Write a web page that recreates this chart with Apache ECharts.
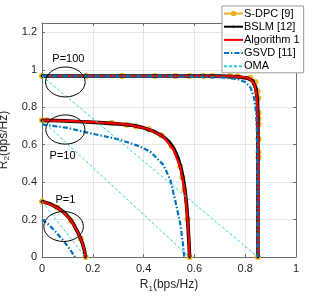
<!DOCTYPE html>
<html>
<head>
<meta charset="utf-8">
<script src="https://cdn.jsdelivr.net/npm/echarts@6/dist/echarts.min.js"></script>
<style>html,body{margin:0;padding:0;background:#fff}#c{width:327px;height:296px}</style>
</head>
<body>
<div id="c"></div>
<script>
// ---------- data (R1, R2) in bps/Hz ----------
const methodNames = ['S-DPC [9]', 'BSLM [12]', 'Algorithm 1', 'GSVD [11]', 'OMA'];
const powerLabels = ['P=100', 'P=10', 'P=1'];

const sdpc_P100 = [[0,0.967],[0.173,0.967],[0.314,0.967],[0.445,0.967],[0.525,0.967],[0.58,0.967],[0.635,0.967],[0.67,0.967],[0.74,0.967],[0.77,0.966],[0.82,0.958],[0.84,0.935],[0.849,0.885],[0.852,0.85],[0.852,0.77],[0.852,0.74],[0.852,0.71],[0.852,0.63],[0.852,0.56],[0.852,0.53],[0.85,0]];
const sdpc_P10 = [[0,0.73],[0.02,0.731],[0.274,0.716],[0.334,0.707],[0.37,0.699],[0.42,0.683],[0.47,0.651],[0.51,0.592],[0.544,0.485],[0.553,0.425],[0.56,0.36],[0.573,0.2],[0.581,0]];
const sdpc_P1 = [[0,0.297],[0.06,0.265],[0.115,0.194],[0.153,0.097],[0.172,0]];

const bslm_P100 = [[0,0.967],[0.1,0.967],[0.2,0.967],[0.3,0.967],[0.4,0.967],[0.5,0.967],[0.6,0.967],[0.7,0.966],[0.77,0.963],[0.81,0.955],[0.83,0.94],[0.842,0.9],[0.848,0.84],[0.85,0.75],[0.85,0.6],[0.85,0.45],[0.85,0.3],[0.85,0.15],[0.85,0]];
const bslm_P10 = [[0,0.73],[0.045,0.729],[0.09,0.727],[0.135,0.724],[0.18,0.721],[0.225,0.718],[0.27,0.714],[0.315,0.709],[0.36,0.702],[0.4,0.69],[0.44,0.671],[0.475,0.645],[0.5,0.615],[0.52,0.575],[0.535,0.53],[0.548,0.47],[0.557,0.41],[0.564,0.345],[0.569,0.28],[0.573,0.21],[0.576,0.14],[0.579,0.07],[0.581,0]];
const bslm_P1 = [[0,0.296],[0.03,0.285],[0.06,0.264],[0.085,0.24],[0.105,0.212],[0.123,0.178],[0.138,0.14],[0.15,0.105],[0.16,0.07],[0.167,0.035],[0.171,0]];

const alg_P100 = [[0,0.967],[0.4,0.967],[0.75,0.965],[0.8,0.96],[0.82,0.95],[0.835,0.925],[0.843,0.88],[0.848,0.8],[0.85,0.6],[0.85,0]];
const alg_P10 = [[0,0.73],[0.1,0.727],[0.2,0.72],[0.3,0.712],[0.347,0.705],[0.4,0.69],[0.426,0.678],[0.478,0.642],[0.518,0.573],[0.544,0.483],[0.564,0.34],[0.573,0.198],[0.578,0.1],[0.581,0]];
const alg_P1 = [[0,0.296],[0.02,0.288],[0.04,0.277],[0.06,0.263],[0.083,0.242],[0.1,0.218],[0.115,0.192],[0.13,0.16],[0.143,0.127],[0.153,0.095],[0.161,0.065],[0.167,0.035],[0.171,0]];

const gsvd_P100 = [[0,0.966],[0.6,0.964],[0.72,0.958],[0.77,0.95],[0.8,0.935],[0.821,0.905],[0.835,0.85],[0.843,0.77],[0.847,0.65],[0.848,0]];
const gsvd_P10 = [[0,0.708],[0.1,0.69],[0.189,0.661],[0.294,0.631],[0.347,0.608],[0.386,0.59],[0.426,0.563],[0.478,0.492],[0.505,0.412],[0.524,0.305],[0.544,0.18],[0.554,0.08],[0.56,0]];
const gsvd_P1 = [[0,0.2],[0.025,0.175],[0.05,0.14],[0.083,0.09],[0.105,0.05],[0.13,0]];

const oma_P100 = [[0,0.967],[0.85,0]];
const oma_P10 = [[0,0.73],[0.58,0]];
const oma_P1 = [[0,0.296],[0.171,0]];

const xTicks = [0, 0.2, 0.4, 0.6, 0.8, 1];
const yTicks = [0, 0.2, 0.4, 0.6, 0.8, 1, 1.2];

// annotation ellipses (data coords) and labels
const ellipseCenters = [[0.092, 0.935], [0.092, 0.681], [0.085, 0.163]];
const ellipseRadii = [[0.078, 0.08], [0.077, 0.078], [0.078, 0.08]];
const labelPos = [[0.104, 1.06], [0.081, 0.539], [0.092, 0.305]];

// ---------- chart ----------
const FONT = 'Liberation Sans, Arial, sans-serif';
const chart = echarts.init(document.getElementById('c'), null, {renderer: 'canvas'});

// small dot inside a padded box so the legend dot stays small
const dotPath = 'path://M0 0M10 10M3 5A2 2 0 1 0 7 5A2 2 0 1 0 3 5Z';
const cfg = {
  'S-DPC [9]': {color:'#EDB120', width:1.8, symbol:'circle', size:6, type:'solid', z:2},
  'BSLM [12]': {color:'#000000', width:3.6, symbol:dotPath, size:7, type:'solid', z:3},
  'Algorithm 1': {color:'#FF0000', width:2.2, symbol:'none', size:0, type:'solid', z:4},
  'GSVD [11]': {color:'#0072BD', width:2.2, symbol:'none', size:0, type:[5,2,1.5,2], z:5},
  'OMA': {color:'#2FCFD6', width:1, symbol:'none', size:0, type:[3,2], z:6}
};
const groups = {
  'S-DPC [9]': [sdpc_P100, sdpc_P10, sdpc_P1],
  'BSLM [12]': [bslm_P100, bslm_P10, bslm_P1],
  'Algorithm 1': [alg_P100, alg_P10, alg_P1],
  'GSVD [11]': [gsvd_P100, gsvd_P10, gsvd_P1],
  'OMA': [oma_P100, oma_P10, oma_P1]
};
const series = [];
methodNames.forEach(name => {
  const c = cfg[name];
  groups[name].forEach(d => {
    series.push({
      type: 'line', name: name, data: d, z: c.z,
      xAxisIndex: 0, yAxisIndex: 0,
      symbol: c.symbol, symbolSize: c.size, showSymbol: c.symbol !== 'none',
      itemStyle: {color: c.color, borderWidth: 0},
      lineStyle: {color: c.color, width: c.width, type: c.type, cap: 'butt'},
      emphasis: {disabled: true}, silent: true, animation: false
    });
  });
});

const legendData = methodNames.map(n => cfg[n].symbol === 'none'
  ? {name: n, itemStyle: {opacity: 0}}
  : {name: n});

const axisColor = '#6e6e6e';
const labelStyle = {color: '#262626', fontSize: 11, fontFamily: FONT};
const option = {
  animation: false,
  textStyle: {fontFamily: FONT},
  grid: {left: 42, right: 31, top: 23, bottom: 39, containLabel: false, outerBoundsMode: 'none'},
  legend: {
    data: legendData, orient: 'vertical', left: 222, top: 6,
    itemWidth: 19, itemHeight: 7, itemGap: 2.2,
    padding: [2, 4, 1, 1],
    backgroundColor: '#ffffff', borderColor: '#9a9a9a', borderWidth: 1,
    textStyle: {color: '#000', fontSize: 11, lineHeight: 11, fontFamily: FONT, padding: [0,0,0,-4]},
    z: 20
  },
  xAxis: [{
    type: 'value', min: 0, max: 1, interval: 0.2, position: 'bottom',
    axisLine: {show: true, onZero: false, lineStyle: {color: axisColor, width: 1}},
    axisTick: {show: true, inside: true, length: 3, lineStyle: {color: axisColor}},
    axisLabel: Object.assign({margin: 6, formatter: v => xTicks.includes(+v.toFixed(1)) ? String(+v.toFixed(1)) : ''}, labelStyle),
    splitLine: {show: true, lineStyle: {color: '#e6e6e6', width: 1}},
    name: 'R{s|1}(bps/Hz)', nameLocation: 'middle', nameGap: 19,
    nameTextStyle: {color: '#262626', fontSize: 12, fontFamily: FONT,
      rich: {s: {fontSize: 8, fontFamily: FONT, color: '#262626', padding: [7,0,0,0]}}}
  }, {
    type: 'value', min: 0, max: 1, interval: 0.2, position: 'top',
    axisLine: {show: true, onZero: false, lineStyle: {color: axisColor, width: 1}},
    axisTick: {show: true, inside: true, length: 3, lineStyle: {color: axisColor}},
    axisLabel: {show: false}, splitLine: {show: false}
  }],
  yAxis: [{
    type: 'value', min: 0, max: 1.25, interval: 0.2, position: 'left',
    axisLine: {show: true, onZero: false, lineStyle: {color: axisColor, width: 1}},
    axisTick: {show: true, inside: true, length: 3, lineStyle: {color: axisColor}},
    axisLabel: Object.assign({margin: 5, showMaxLabel: false, formatter: v => String(+v.toFixed(1))}, labelStyle),
    splitLine: {show: true, lineStyle: {color: '#e6e6e6', width: 1}},
    name: 'R{s|2}(bps/Hz)', nameLocation: 'middle', nameGap: 28,
    nameTextStyle: {color: '#262626', fontSize: 12, fontFamily: FONT,
      rich: {s: {fontSize: 8, fontFamily: FONT, color: '#262626', padding: [7,0,0,0]}}}
  }, {
    type: 'value', min: 0, max: 1.25, interval: 0.2, position: 'right',
    axisLine: {show: true, onZero: false, lineStyle: {color: axisColor, width: 1}},
    axisTick: {show: true, inside: true, length: 3, lineStyle: {color: axisColor}},
    axisLabel: {show: false}, splitLine: {show: false}
  }],
  series: series
};
chart.setOption(option);

// annotations placed through the grid's coordinate system
const graphics = [];
ellipseCenters.forEach((c, i) => {
  const p = chart.convertToPixel({gridIndex: 0}, c);
  const q = chart.convertToPixel({gridIndex: 0}, [c[0] + ellipseRadii[i][0], c[1] + ellipseRadii[i][1]]);
  graphics.push({
    type: 'ellipse', z: 15, silent: true,
    shape: {cx: p[0], cy: p[1], rx: Math.abs(q[0] - p[0]), ry: Math.abs(p[1] - q[1])},
    style: {fill: null, stroke: '#000', lineWidth: 1}
  });
});
labelPos.forEach((c, i) => {
  const p = chart.convertToPixel({gridIndex: 0}, c);
  graphics.push({
    type: 'text', z: 15, silent: true, x: p[0], y: p[1],
    style: {text: powerLabels[i], fill: '#000', font: '11px ' + FONT, align: 'center', verticalAlign: 'middle'}
  });
});
chart.setOption({graphic: graphics});
</script>
</body>
</html>
